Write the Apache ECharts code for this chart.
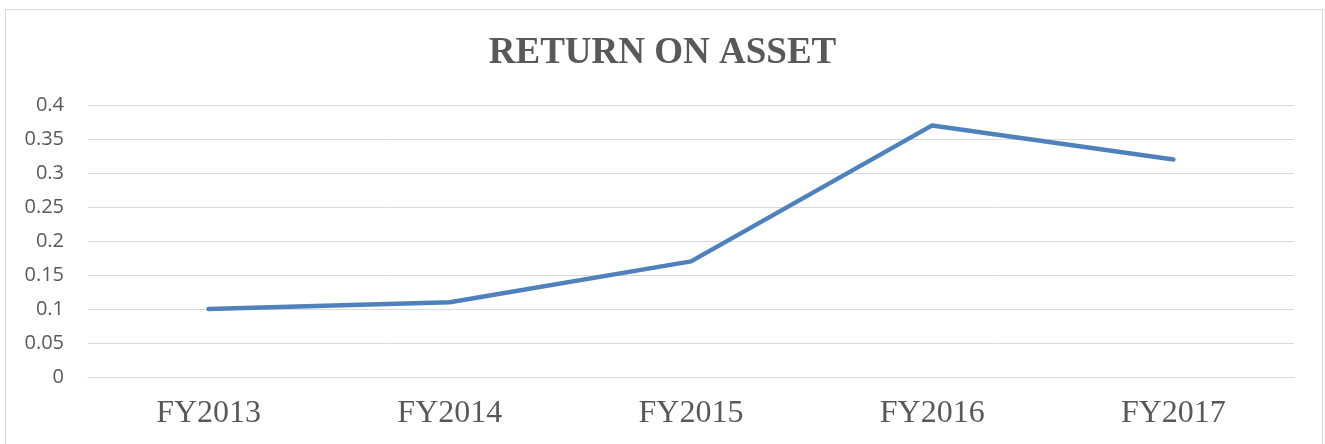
<!DOCTYPE html>
<html>
<head>
<meta charset="utf-8">
<script src="https://cdn.jsdelivr.net/npm/echarts@6/dist/echarts.min.js"></script>
<style>
  html, body { margin: 0; padding: 0; background: #fff; }
  #chart { width: 1325px; height: 444px; }
</style>
</head>
<body>
<div id="chart"></div>
<script>
const years = ["FY2013", "FY2014", "FY2015", "FY2016", "FY2017"];
const roa = [0.1, 0.11, 0.17, 0.37, 0.32];

const chart = echarts.init(document.getElementById("chart"));
chart.setOption({
  animation: false,
  backgroundColor: "#fff",
  graphic: [{
    type: "rect",
    shape: { x: 5.5, y: 9.5, width: 1317, height: 460 },
    style: { fill: "none", stroke: "#d9d9d9", lineWidth: 1 },
    silent: true
  }],
  title: {
    text: "RETURN ON ASSET",
    left: "center",
    top: 30,
    textStyle: {
      fontFamily: "Liberation Serif",
      fontWeight: "bold",
      fontSize: 37,
      color: "#595959"
    }
  },
  grid: { left: 88, right: 31, top: 105, bottom: 67 },
  xAxis: {
    type: "category",
    data: years,
    boundaryGap: true,
    axisLine: { lineStyle: { color: "#d9d9d9" } },
    axisTick: { show: false },
    axisLabel: {
      margin: 21,
      fontFamily: "Liberation Serif",
      fontSize: 32,
      color: "#595959"
    }
  },
  yAxis: {
    type: "value",
    min: 0,
    max: 0.4,
    interval: 0.05,
    axisLine: { show: false },
    axisTick: { show: false },
    axisLabel: {
      margin: 24,
      fontFamily: "Open Sans",
      fontSize: 20,
      color: "#595959"
    },
    splitLine: { lineStyle: { color: "#d9d9d9", width: 1 } }
  },
  series: [{
    type: "line",
    data: roa,
    symbol: "none",
    lineStyle: { color: "#4f81bd", width: 4.5, cap: "round", join: "round" }
  }]
});
</script>
</body>
</html>
